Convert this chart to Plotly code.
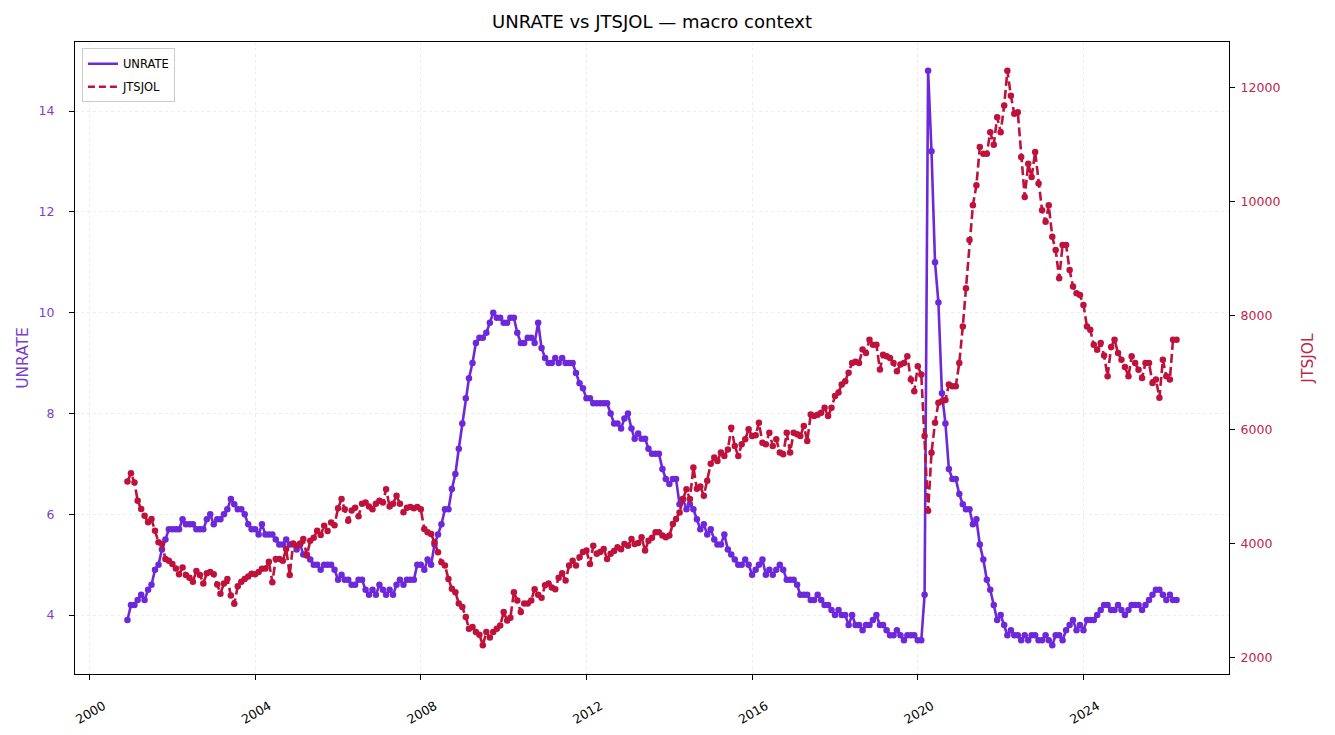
import pandas as pd
import plotly.graph_objects as go

START_MONTH = "2000-12-01"

UNRATE = [
    3.9,
    4.2, 4.2, 4.3, 4.4, 4.3, 4.5, 4.6, 4.9, 5.0, 5.3, 5.5, 5.7,
    5.7, 5.7, 5.7, 5.9, 5.8, 5.8, 5.8, 5.7, 5.7, 5.7, 5.9, 6.0,
    5.8, 5.9, 5.9, 6.0, 6.1, 6.3, 6.2, 6.1, 6.1, 6.0, 5.8, 5.7,
    5.7, 5.6, 5.8, 5.6, 5.6, 5.6, 5.5, 5.4, 5.4, 5.5, 5.4, 5.4,
    5.3, 5.4, 5.2, 5.2, 5.1, 5.0, 5.0, 4.9, 5.0, 5.0, 5.0, 4.9,
    4.7, 4.8, 4.7, 4.7, 4.6, 4.6, 4.7, 4.7, 4.5, 4.4, 4.5, 4.4,
    4.6, 4.5, 4.4, 4.5, 4.4, 4.6, 4.7, 4.6, 4.7, 4.7, 4.7, 5.0,
    5.0, 4.9, 5.1, 5.0, 5.4, 5.6, 5.8, 6.1, 6.1, 6.5, 6.8, 7.3,
    7.8, 8.3, 8.7, 9.0, 9.4, 9.5, 9.5, 9.6, 9.8, 10.0, 9.9, 9.9,
    9.8, 9.8, 9.9, 9.9, 9.6, 9.4, 9.4, 9.5, 9.5, 9.4, 9.8, 9.3,
    9.1, 9.0, 9.0, 9.1, 9.0, 9.1, 9.0, 9.0, 9.0, 8.8, 8.6, 8.5,
    8.3, 8.3, 8.2, 8.2, 8.2, 8.2, 8.2, 8.0, 7.8, 7.8, 7.7, 7.9,
    8.0, 7.7, 7.5, 7.6, 7.5, 7.5, 7.3, 7.2, 7.2, 7.2, 6.9, 6.7,
    6.6, 6.7, 6.7, 6.2, 6.3, 6.1, 6.2, 6.1, 5.9, 5.7, 5.8, 5.6,
    5.7, 5.5, 5.4, 5.4, 5.6, 5.3, 5.2, 5.1, 5.0, 5.0, 5.1, 5.0,
    4.8, 4.9, 5.0, 5.1, 4.8, 4.9, 4.8, 4.9, 5.0, 4.9, 4.7, 4.7,
    4.7, 4.6, 4.4, 4.4, 4.4, 4.3, 4.3, 4.4, 4.3, 4.2, 4.2, 4.1,
    4.0, 4.1, 4.0, 4.0, 3.8, 4.0, 3.8, 3.8, 3.7, 3.8, 3.8, 3.9,
    4.0, 3.8, 3.8, 3.7, 3.6, 3.6, 3.7, 3.6, 3.5, 3.6, 3.6, 3.6,
    3.5, 3.5, 4.4, 14.8, 13.2, 11.0, 10.2, 8.4, 7.8, 6.9, 6.7, 6.7,
    6.4, 6.2, 6.1, 6.1, 5.8, 5.9, 5.4, 5.1, 4.7, 4.5, 4.2, 3.9,
    4.0, 3.8, 3.6, 3.7, 3.6, 3.6, 3.5, 3.6, 3.5, 3.6, 3.6, 3.5,
    3.5, 3.6, 3.5, 3.4, 3.6, 3.6, 3.5, 3.7, 3.8, 3.9, 3.7, 3.8,
    3.7, 3.9, 3.9, 3.9, 4.0, 4.1, 4.2, 4.2, 4.1, 4.1, 4.2, 4.1,
    4.0, 4.1, 4.2, 4.2, 4.2, 4.1, 4.2, 4.3, 4.4, 4.5, 4.5, 4.4,
    4.3, 4.4, 4.3, 4.3,
]

JTSJOL = [
    5088,
    5234, 5071, 4751, 4605, 4488, 4372, 4430, 4226, 4022, 3993, 3731, 3700,
    3640, 3560, 3460, 3580, 3450, 3400, 3330, 3520, 3450, 3300, 3480, 3500,
    3460, 3280, 3120, 3300, 3380, 3090, 2944, 3250, 3330, 3380, 3420, 3470,
    3460, 3500, 3556, 3560, 3680, 3323, 3731, 3730, 3700, 3906, 3450, 4000,
    3960, 4000, 4080, 3789, 4050, 4100, 4226, 4150, 4313, 4220, 4370, 4320,
    4620, 4780, 4600, 4400, 4580, 4630, 4480, 4700, 4720, 4650, 4600, 4700,
    4750, 4720, 4955, 4650, 4700, 4840, 4700, 4550, 4630, 4640, 4620, 4640,
    4600, 4255, 4200, 4167, 4022, 3847, 3672, 3614, 3380, 3206, 3147, 2950,
    2885, 2710, 2506, 2535, 2448, 2400, 2215, 2448, 2350, 2450, 2506, 2560,
    2797, 2650, 2700, 3147, 3000, 2800, 2950, 2950, 3000, 3200, 3100, 3050,
    3270, 3300, 3230, 3200, 3400, 3480, 3350, 3614, 3700, 3614, 3760, 3850,
    3876, 3640, 3963, 3820, 3850, 3905, 3730, 3820, 3870, 3934, 3900, 3990,
    3960, 4080, 3990, 4010, 4110, 3876, 4050, 4100, 4197, 4200, 4140, 4110,
    4140, 4342, 4430, 4546, 4780, 4954, 4780, 5333, 4960, 5000, 4840, 5100,
    5400, 5508, 5450, 5596, 5537, 5650, 6033, 5712, 5537, 5741, 5829, 6004,
    5887, 5900, 6120, 5771, 5741, 5945, 5712, 5829, 5596, 5567, 5945, 5596,
    5945, 5916, 5887, 6062, 5800, 6266, 6237, 6260, 6295, 6383, 6237, 6383,
    6587, 6650, 6790, 6850, 6995, 7169, 7190, 7169, 7403, 7345, 7577, 7490,
    7490, 7053, 7315, 7286, 7257, 7169, 7024, 7140, 7169, 7286, 6878, 6674,
    7111, 6965, 5887, 4575, 5595, 6120, 6470, 6498, 6520, 6790, 6760, 6760,
    7169, 7810, 8480, 9325, 9937, 10287, 10957, 10840, 10840, 11219, 11000, 11481,
    11219, 11685, 12297, 11860, 11540, 11569, 10782, 10083, 10665, 10432, 10870, 10316,
    9849, 9645, 9937, 9383, 9150, 8655, 9237, 9237, 8800, 8509, 8392, 8363,
    8188, 7810, 7751, 7489, 7402, 7518, 7300, 6935, 7450, 7576, 7343, 7227,
    7100, 6935, 7285, 7169, 7052, 6906, 7169, 7169, 6819, 6880, 6560, 7227,
    6935, 6877, 7576, 7576,
]

X_TICK_YEARS = [2000, 2004, 2008, 2012, 2016, 2020, 2024]
Y1_TICKS = [4, 6, 8, 10, 12, 14]
Y2_TICKS = [2000, 4000, 6000, 8000, 10000, 12000]

TITLE = "UNRATE vs JTSJOL \u2014 macro context"
C_UN = "#6D28D9"
C_JT = "#BE123C"
C_UN_TXT = "#7B3FC8"
C_JT_TXT = "#C0264A"
FONT = "DejaVu Sans"

dates = pd.date_range(START_MONTH, periods=len(UNRATE), freq="MS")
dates_j = pd.date_range(START_MONTH, periods=len(JTSJOL), freq="MS")

def padded(lo, hi, frac=0.05):
    d = (hi - lo) * frac
    return [lo - d, hi + d]

xpad = (dates[-1] - dates[0]) * 0.05
xrange_ = [dates[0] - xpad, dates[-1] + xpad]

fig = go.Figure()
fig.add_trace(go.Scatter(
    x=dates, y=UNRATE, mode="lines+markers", name="UNRATE", showlegend=False,
    line=dict(color=C_UN, width=2.6), marker=dict(color=C_UN, size=6.5, line=dict(width=0)),
    yaxis="y",
))
fig.add_trace(go.Scatter(
    x=dates_j, y=JTSJOL, mode="lines+markers", name="JTSJOL", showlegend=False,
    line=dict(color=C_JT, width=2.6, dash="9px,4px"), marker=dict(color=C_JT, size=6.5, line=dict(width=0)),
    yaxis="y2",
))
# legend entries (line only, like the reference)
fig.add_trace(go.Scatter(x=[None], y=[None], mode="lines", name="UNRATE", legendgroup="a",
                         line=dict(color=C_UN, width=2.6), yaxis="y"))
fig.add_trace(go.Scatter(x=[None], y=[None], mode="lines", name="JTSJOL", legendgroup="b",
                         line=dict(color=C_JT, width=2.6, dash="7px,4px"), yaxis="y2"))

fig.update_layout(
    width=1335, height=735,
    margin=dict(l=67, r=114, t=34, b=69, autoexpand=False),
    paper_bgcolor="white", plot_bgcolor="white",
    font=dict(family=FONT, size=12, color="#222"),
    title=dict(text=TITLE, x=0.5, xref="paper", xanchor="center", y=1 - 14 / 735, yanchor="middle",
               font=dict(family=FONT, size=18, color="black")),
    legend=dict(x=0.006, y=0.99, xanchor="left", yanchor="top", bgcolor="rgba(255,255,255,0.9)",
                bordercolor="#cccccc", borderwidth=1, font=dict(size=11.5, color="black"),
                tracegroupgap=4, itemwidth=30),
    xaxis=dict(
        type="date", range=xrange_,
        tickvals=[pd.Timestamp(f"{y}-01-01") for y in X_TICK_YEARS],
        ticktext=[str(y) for y in X_TICK_YEARS],
        tickangle=-30, tickfont=dict(size=12.5, color="black"), ticklabelshift=14,
        ticklabelstandoff=14,
        ticks="outside", ticklen=5, tickcolor="black",
        showline=True, linecolor="black", linewidth=1.2, mirror=True,
        showgrid=True, gridcolor="#ececec", griddash="dot", gridwidth=1,
        zeroline=False,
    ),
    yaxis=dict(
        range=padded(min(UNRATE), max(UNRATE)), tickvals=Y1_TICKS,
        tickfont=dict(size=12.5, color=C_UN_TXT), ticks="outside", ticklen=5, tickcolor="black",
        ticklabelstandoff=12,
        title=dict(text="UNRATE", font=dict(size=15.5, color=C_UN_TXT), standoff=6),
        showline=True, linecolor="black", linewidth=1.2, mirror=True,
        showgrid=True, gridcolor="#ececec", griddash="dot", gridwidth=1, zeroline=False,
    ),
    yaxis2=dict(
        range=padded(min(JTSJOL), max(JTSJOL)), tickvals=Y2_TICKS,
        ticktext=[str(v) for v in Y2_TICKS], overlaying="y", side="right",
        tickfont=dict(size=12.5, color=C_JT_TXT), ticks="outside", ticklen=5, tickcolor="black",
        ticklabelstandoff=3,
        title=dict(text="JTSJOL", font=dict(size=15.5, color=C_JT_TXT), standoff=22),
        showline=True, linecolor="black", linewidth=1.2,
        showgrid=False, zeroline=False,
    ),
)

fig.write_html("out.html")
